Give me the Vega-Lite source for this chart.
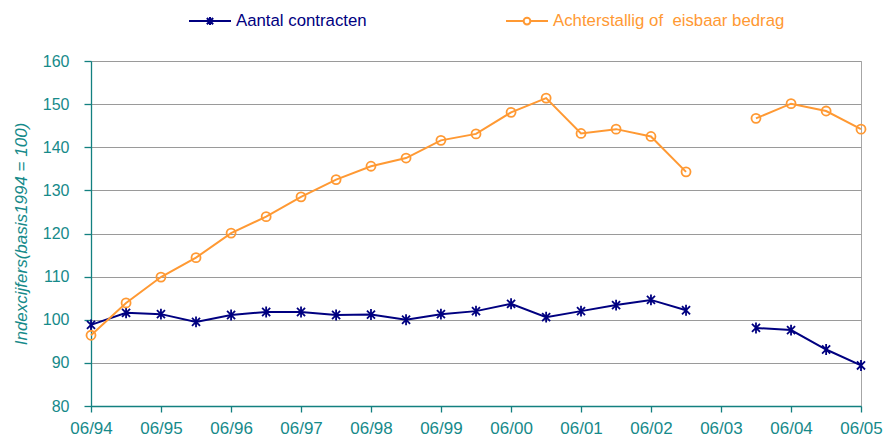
{
  "$schema": "https://vega.github.io/schema/vega-lite/v6.json",
  "width": 770,
  "height": 345,
  "padding": {"left": 91, "top": 61, "right": 22, "bottom": 32},
  "autosize": {"type": "none"},
  "background": "white",
  "config": {
    "font": "Liberation Sans",
    "view": {"stroke": "#a6a6a6", "strokeWidth": 1},
    "axis": {
      "labelFont": "Liberation Sans",
      "labelColor": "#168a8a",
      "domainColor": "#138080",
      "tickColor": "#138080",
      "domainWidth": 1.3,
      "tickWidth": 1.3,
      "tickSize": 6
    }
  },
  "data": {
    "values": [
      {"date": "1994-06-01", "series": "Aantal contracten", "value": 98.8},
      {"date": "1994-12-01", "series": "Aantal contracten", "value": 101.6},
      {"date": "1995-06-01", "series": "Aantal contracten", "value": 101.3},
      {"date": "1995-12-01", "series": "Aantal contracten", "value": 99.5},
      {"date": "1996-06-01", "series": "Aantal contracten", "value": 101.1},
      {"date": "1996-12-01", "series": "Aantal contracten", "value": 101.8},
      {"date": "1997-06-01", "series": "Aantal contracten", "value": 101.8},
      {"date": "1997-12-01", "series": "Aantal contracten", "value": 101.1},
      {"date": "1998-06-01", "series": "Aantal contracten", "value": 101.2},
      {"date": "1998-12-01", "series": "Aantal contracten", "value": 100.0},
      {"date": "1999-06-01", "series": "Aantal contracten", "value": 101.3},
      {"date": "1999-12-01", "series": "Aantal contracten", "value": 102.0},
      {"date": "2000-06-01", "series": "Aantal contracten", "value": 103.7},
      {"date": "2000-12-01", "series": "Aantal contracten", "value": 100.6},
      {"date": "2001-06-01", "series": "Aantal contracten", "value": 102.0},
      {"date": "2001-12-01", "series": "Aantal contracten", "value": 103.4},
      {"date": "2002-06-01", "series": "Aantal contracten", "value": 104.6},
      {"date": "2002-12-01", "series": "Aantal contracten", "value": 102.2},
      {"date": "2003-06-01", "series": "Aantal contracten", "value": null},
      {"date": "2003-12-01", "series": "Aantal contracten", "value": 98.1},
      {"date": "2004-06-01", "series": "Aantal contracten", "value": 97.6},
      {"date": "2004-12-01", "series": "Aantal contracten", "value": 93.1},
      {"date": "2005-06-01", "series": "Aantal contracten", "value": 89.4},
      {"date": "1994-06-01", "series": "Achterstallig of\u00a0 eisbaar bedrag", "value": 96.4},
      {"date": "1994-12-01", "series": "Achterstallig of\u00a0 eisbaar bedrag", "value": 103.9},
      {"date": "1995-06-01", "series": "Achterstallig of\u00a0 eisbaar bedrag", "value": 109.9},
      {"date": "1995-12-01", "series": "Achterstallig of\u00a0 eisbaar bedrag", "value": 114.4},
      {"date": "1996-06-01", "series": "Achterstallig of\u00a0 eisbaar bedrag", "value": 120.1},
      {"date": "1996-12-01", "series": "Achterstallig of\u00a0 eisbaar bedrag", "value": 123.9},
      {"date": "1997-06-01", "series": "Achterstallig of\u00a0 eisbaar bedrag", "value": 128.5},
      {"date": "1997-12-01", "series": "Achterstallig of\u00a0 eisbaar bedrag", "value": 132.5},
      {"date": "1998-06-01", "series": "Achterstallig of\u00a0 eisbaar bedrag", "value": 135.6},
      {"date": "1998-12-01", "series": "Achterstallig of\u00a0 eisbaar bedrag", "value": 137.5},
      {"date": "1999-06-01", "series": "Achterstallig of\u00a0 eisbaar bedrag", "value": 141.6},
      {"date": "1999-12-01", "series": "Achterstallig of\u00a0 eisbaar bedrag", "value": 143.1},
      {"date": "2000-06-01", "series": "Achterstallig of\u00a0 eisbaar bedrag", "value": 148.1},
      {"date": "2000-12-01", "series": "Achterstallig of\u00a0 eisbaar bedrag", "value": 151.4},
      {"date": "2001-06-01", "series": "Achterstallig of\u00a0 eisbaar bedrag", "value": 143.2},
      {"date": "2001-12-01", "series": "Achterstallig of\u00a0 eisbaar bedrag", "value": 144.2},
      {"date": "2002-06-01", "series": "Achterstallig of\u00a0 eisbaar bedrag", "value": 142.5},
      {"date": "2002-12-01", "series": "Achterstallig of\u00a0 eisbaar bedrag", "value": 134.3},
      {"date": "2003-06-01", "series": "Achterstallig of\u00a0 eisbaar bedrag", "value": null},
      {"date": "2003-12-01", "series": "Achterstallig of\u00a0 eisbaar bedrag", "value": 146.7},
      {"date": "2004-06-01", "series": "Achterstallig of\u00a0 eisbaar bedrag", "value": 150.1},
      {"date": "2004-12-01", "series": "Achterstallig of\u00a0 eisbaar bedrag", "value": 148.4},
      {"date": "2005-06-01", "series": "Achterstallig of\u00a0 eisbaar bedrag", "value": 144.2}
    ]
  },
  "encoding": {
    "x": {
      "field": "date",
      "type": "temporal",
      "scale": {"type": "utc", "domain": ["1994-06-01", "2005-06-01"]},
      "axis": {
        "title": null,
        "format": "%m/%y",
        "grid": false,
        "labelFontSize": 17,
        "labelPadding": 8,
        "labelFlush": false,
        "labelOverlap": false,
        "values": ["1994-06-01", "1995-06-01", "1996-06-01", "1997-06-01", "1998-06-01", "1999-06-01", "2000-06-01", "2001-06-01", "2002-06-01", "2003-06-01", "2004-06-01", "2005-06-01"]
      }
    },
    "y": {
      "field": "value",
      "type": "quantitative",
      "scale": {"domain": [80, 160], "nice": false, "zero": false},
      "axis": {
        "title": "Indexcijfers(basis1994 = 100)",
        "titleFont": "Liberation Sans",
        "titleFontStyle": "italic",
        "titleFontWeight": "normal",
        "titleFontSize": 17,
        "titleColor": "#168a8a",
        "titlePadding": 12,
        "values": [80, 90, 100, 110, 120, 130, 140, 150, 160],
        "grid": true,
        "gridColor": "#9a9a9a",
        "gridWidth": 1.2,
        "labelFontSize": 16,
        "tickSize": 7,
        "labelPadding": 15
      }
    },
    "color": {
      "field": "series",
      "type": "nominal",
      "scale": {
        "domain": ["Aantal contracten", "Achterstallig of\u00a0 eisbaar bedrag"],
        "range": ["#000080", "#ff9933"]
      },
      "legend": {
        "title": null,
        "orient": "none",
        "direction": "horizontal",
        "legendX": 97,
        "legendY": -62,
        "columnPadding": 135,
        "labelFont": "Liberation Sans",
        "labelFontSize": 16.8,
        "labelLimit": 400,
        "labelOffset": 4,
        "symbolSize": 1764,
        "symbolStrokeWidth": 2,
        "encode": {
          "labels": {"update": {"fill": {"scale": "color", "field": "value"}}},
          "symbols": {"update": {
            "shape": {"signal": "datum.value === 'Aantal contracten' ? 'M-1,0H1M0,-0.19V0.19M-0.15,-0.15L0.15,0.15M-0.15,0.15L0.15,-0.15' : 'M-1,0H-0.16M0.16,0H1M-0.16,0A0.16,0.16 0 1,0 0.16,0A0.16,0.16 0 1,0 -0.16,0'"},
            "stroke": {"scale": "color", "field": "value"},
            "strokeWidth": {"value": 2},
            "fill": {"value": "transparent"},
            "opacity": {"value": 1}
          }}
        }
      }
    }
  },
  "layer": [
    {
      "mark": {"type": "line", "strokeWidth": 2, "invalid": "break-paths-filter-domains"}
    },
    {
      "transform": [{"filter": "datum.series === 'Aantal contracten'"}],
      "mark": {"type": "point", "filled": false, "strokeWidth": 1.8, "opacity": 1, "size": 90,
               "shape": "M0,-1.15V1.15M-0.85,-0.85L0.85,0.85M-0.85,0.85L0.85,-0.85"}
    },
    {
      "transform": [{"filter": "datum.series !== 'Aantal contracten'"}],
      "mark": {"type": "point", "filled": false, "strokeWidth": 1.8, "opacity": 1, "size": 90,
               "shape": "M-0.95,0A0.95,0.95 0 1,0 0.95,0A0.95,0.95 0 1,0 -0.95,0"}
    }
  ]
}
